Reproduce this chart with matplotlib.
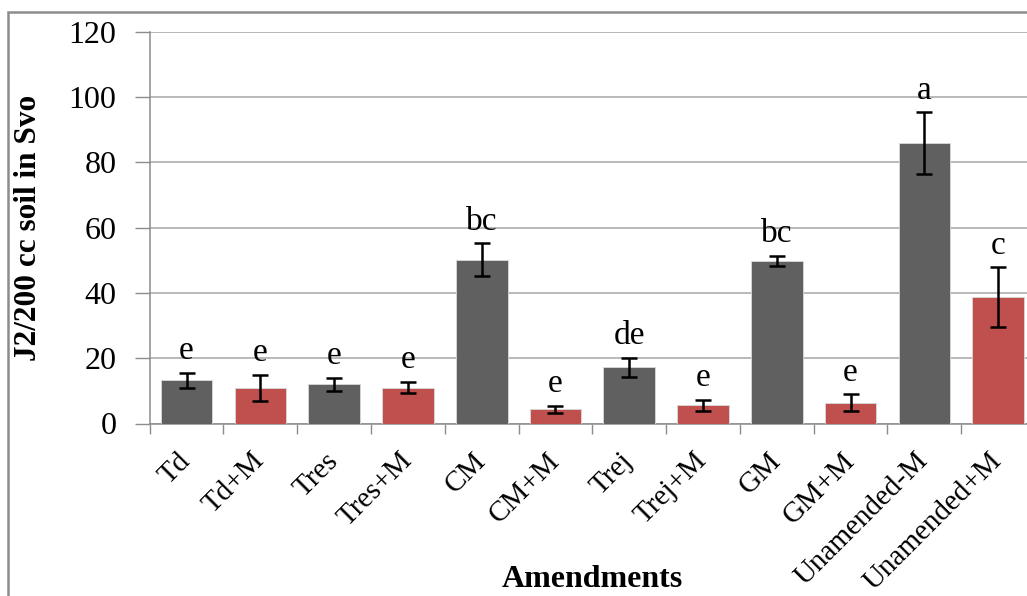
import numpy as np
import matplotlib
matplotlib.use("Agg")
import matplotlib.pyplot as plt
from matplotlib.patches import Rectangle

# data
amendments = ["Td", "Td+M", "Tres", "Tres+M", "CM", "CM+M", "Trej", "Trej+M",
              "GM", "GM+M", "Unamended-M", "Unamended+M"]
j2_mean = [13.2, 10.9, 12.0, 11.0, 50.2, 4.3, 17.2, 5.6, 49.8, 6.4, 85.8, 38.7]
j2_err = [2.3, 3.9, 1.9, 1.8, 5.0, 1.0, 3.0, 1.7, 1.5, 2.5, 9.5, 9.1]
letters = ["e", "e", "e", "e", "bc", "e", "de", "e", "bc", "e", "a", "c"]

gray = "#606060"
red = "#C0504D"
colors = [gray if i % 2 == 0 else red for i in range(len(amendments))]

plt.rcParams["font.family"] = ["Liberation Serif", "DejaVu Serif"]

W, H = 1027, 596
fig = plt.figure(figsize=(W / 100, H / 100), dpi=100)
# plot area runs slightly past the right edge, like the cropped original
ax = fig.add_axes([149.7 / W, 1 - 423.5 / H, (1035 - 149.7) / W, (423.5 - 31.7) / H])

x = np.arange(len(amendments))
ax.bar(x, j2_mean, width=0.7, color=colors, edgecolor="#d9d9d9", linewidth=0.6, zorder=3)
ax.errorbar(x, j2_mean, yerr=j2_err, fmt="none", ecolor="black", elinewidth=1.8,
            capsize=5.5, capthick=1.8, zorder=4)

for xi, m, e, lab in zip(x, j2_mean, j2_err, letters):
    ax.text(xi, m + e + 4.2, lab, ha="center", va="baseline", fontsize=24)

ax.set_ylim(0, 120)
ax.set_xlim(-0.5, len(amendments) - 0.5)
ax.set_yticks(np.arange(0, 121, 20))
ax.yaxis.grid(True, color="#a6a6a6", linewidth=1.1, zorder=0)
ax.set_axisbelow(True)

ax.set_xticks(np.arange(-0.5, len(amendments), 1), minor=False)
ax.set_xticklabels([])
ax.set_xticks(x, minor=True)
ax.set_xticklabels(amendments, minor=True, rotation=45, ha="right", va="center",
                   rotation_mode="anchor", fontsize=21)
ax.tick_params(axis="x", which="major", length=7, color="#8c8c8c", width=1)
ax.tick_params(axis="x", which="minor", length=0, pad=24)
ax.tick_params(axis="y", length=11, color="#8c8c8c", width=1, labelsize=23, pad=13)

for s in ["top", "right"]:
    ax.spines[s].set_visible(False)
for s in ["left", "bottom"]:
    ax.spines[s].set_color("#8c8c8c")
    ax.spines[s].set_linewidth(1.1)

ax.set_ylabel("J2/200 cc soil in Svo", fontsize=22.5, fontweight="bold")
ax.set_xlabel("Amendments", fontsize=23, fontweight="bold", va="bottom")
ax.yaxis.set_label_coords(-0.1205, 0.5)
ax.xaxis.set_label_coords(0.5, -(594 - 423.5) / (423.5 - 31.7))

# outer chart border
fig.patches.append(Rectangle((8 / W, -0.1), 1.2, 1.1 - 12 / H, transform=fig.transFigure,
                             fill=False, edgecolor="#8c8c8c", linewidth=1.8))

fig.savefig("out.png", dpi=100)
